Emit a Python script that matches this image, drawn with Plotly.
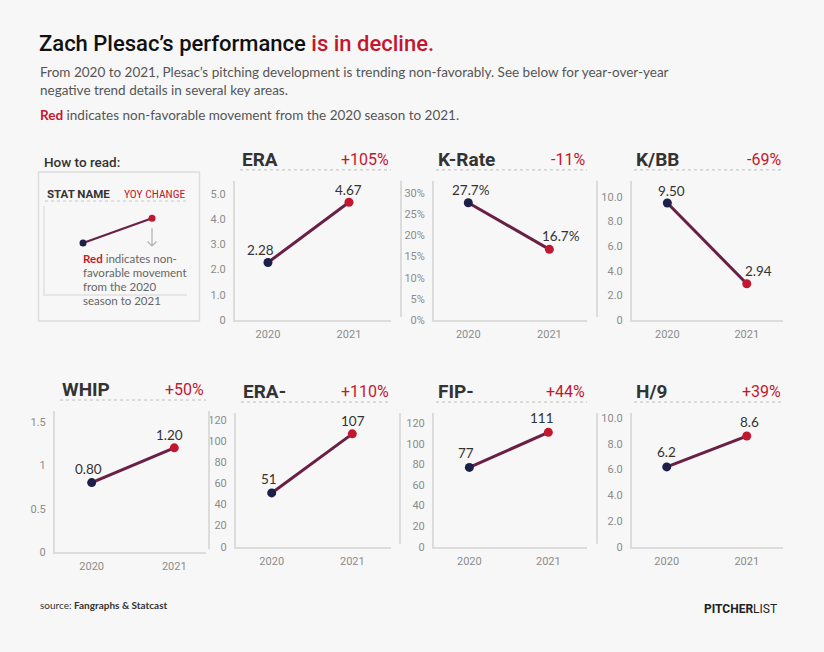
import plotly.graph_objects as go

W, H = 824, 652
NAVY = "#1c2048"
RED = "#c3172f"
MID = "#6a1f45"
DARK = "#333333"
GRAY = "#8c8c8c"
AXIS = "#dcdcdc"
BG = "#f7f7f7"

# ---- data ----
years = ["2020", "2021"]
stat_names = ["ERA", "K-Rate", "K/BB", "WHIP", "ERA-", "FIP-", "H/9"]
yoy_change = ["+105%", "-11%", "-69%", "+50%", "+110%", "+44%", "+39%"]

era = [2.28, 4.67]
k_rate = [27.7, 16.7]
k_bb = [9.50, 2.94]
whip = [0.80, 1.20]
era_minus = [51, 107]
fip_minus = [77, 111]
hits_per_9 = [6.2, 8.6]
demo_values = [1.0, 2.0]

era_ticks = [0, 1, 2, 3, 4, 5]
era_tick_text = ["0", "1.0", "2.0", "3.0", "4.0", "5.0"]
k_rate_ticks = [0, 5, 10, 15, 20, 25, 30]
k_rate_tick_text = ["0%", "5%", "10%", "15%", "20%", "25%", "30%"]
k_bb_ticks = [0, 2, 4, 6, 8, 10]
k_bb_tick_text = ["0", "2.0", "4.0", "6.0", "8.0", "10.0"]
whip_ticks = [0, 0.5, 1, 1.5]
whip_tick_text = ["0", "0.5", "1", "1.5"]
minus_ticks = [0, 20, 40, 60, 80, 100, 120]
minus_tick_text = ["0", "20", "40", "60", "80", "100", "120"]
h9_ticks = [0, 2, 4, 6, 8, 10]
h9_tick_text = ["0", "2.0", "4.0", "6.0", "8.0", "10.0"]


def px(x):
    return x / W


def py(y):
    return 1 - y / H


# panel layout: box = (left, right, top, bottom) in pixels
panels = [
    dict(values=era, ticks=era_ticks, text=era_tick_text, fmt="{:.2f}",
         box=(235, 391, 182, 323), ymax=5.52, xr=[-0.407, 1.519],
         shifts=[(-7, 13), (0, 12)], sep=401),
    dict(values=k_rate, ticks=k_rate_ticks, text=k_rate_tick_text, fmt="{:.1f}%",
         box=(434, 587, 182, 323), ymax=32.9, xr=[-0.423, 1.464],
         shifts=[(3, 13), (12, 13)], sep=597),
    dict(values=k_bb, ticks=k_bb_ticks, text=k_bb_tick_text, fmt="{:.2f}",
         box=(632, 783, 182, 323), ymax=11.3, xr=[-0.445, 1.456],
         shifts=[(4, 12), (12, 13)], sep=None),
    dict(values=whip, ticks=whip_ticks, text=whip_tick_text, fmt="{:.2f}",
         box=(55, 206, 415, 558), ymax=1.625, xr=[-0.444, 1.384],
         shifts=[(-3, 14), (-5, 13)], sep=209),
    dict(values=era_minus, ticks=minus_ticks, text=minus_tick_text, fmt="{:.0f}",
         box=(236, 391, 417, 552.5), ymax=126.9, xr=[-0.443, 1.48],
         shifts=[(-3, 14), (1, 13)], sep=400),
    dict(values=fip_minus, ticks=minus_ticks, text=minus_tick_text, fmt="{:.0f}",
         box=(434, 587, 417, 552.5), ymax=129.9, xr=[-0.448, 1.49],
         shifts=[(-3, 14), (-6, 14)], sep=597),
    dict(values=hits_per_9, ticks=h9_ticks, text=h9_tick_text, fmt="{:.1f}",
         box=(632, 783, 417, 552.5), ymax=10.4, xr=[-0.434, 1.453],
         shifts=[(0, 15), (3, 14)], sep=None),
]

fig = go.Figure()
annotations = []
shapes = []

for i, p in enumerate(panels, start=1):
    sfx = "" if i == 1 else str(i)
    left, right, top, bottom = p["box"]
    fig.add_trace(go.Scatter(
        x=years, y=p["values"], xaxis="x" + sfx, yaxis="y" + sfx,
        mode="lines+markers", cliponaxis=False, hoverinfo="skip",
        line=dict(color=MID, width=3),
        marker=dict(color=[NAVY, RED], size=9),
    ))
    fig.update_layout(**{
        "xaxis" + sfx: dict(
            domain=[px(left), px(right)], anchor="y" + sfx, type="category",
            range=p["xr"], showline=True, linecolor=AXIS, linewidth=2,
            showgrid=False, zeroline=False, ticks="", fixedrange=True,
            tickfont=dict(size=11, color=GRAY), ticklabelstandoff=3,
        ),
        "yaxis" + sfx: dict(
            domain=[py(bottom), py(top)], anchor="x" + sfx,
            range=[0, p["ymax"]], showline=True, linecolor=AXIS, linewidth=2,
            showgrid=False, zeroline=False, ticks="", fixedrange=True,
            tickvals=p["ticks"], ticktext=p["text"],
            tickfont=dict(size=11, color=GRAY), ticklabelstandoff=5,
        ),
    })
    # data labels (category index of each year on the x axis)
    for j, (v, (dx, dy)) in enumerate(zip(p["values"], p["shifts"])):
        annotations.append(dict(
            x=j, y=v, xref="x" + sfx, yref="y" + sfx, text=p["fmt"].format(v),
            showarrow=False, xshift=dx, yshift=dy,
            xanchor="center", yanchor="middle",
            font=dict(size=13.5, color=DARK, family="Lato"),
        ))
    # panel header
    head_y = top - 22
    title_x = left + 5 if i in (1, 4, 5) else left + 2
    annotations.append(dict(
        x=px(title_x), y=py(head_y), xref="paper", yref="paper",
        text="<b>" + stat_names[i - 1] + "</b>", showarrow=False,
        xanchor="left", yanchor="middle",
        font=dict(size=19, color=DARK, family="Roboto"),
    ))
    annotations.append(dict(
        x=px(right), y=py(head_y), xref="paper", yref="paper",
        text=yoy_change[i - 1], showarrow=False,
        xanchor="right", yanchor="middle",
        font=dict(size=16, color=RED, family="Roboto"),
    ))
    shapes.append(dict(
        type="line", xref="paper", yref="paper",
        x0=px(title_x), x1=px(right), y0=py(head_y + 11), y1=py(head_y + 11),
        line=dict(color="#bdbdbd", width=1, dash="dot"),
    ))
    if p["sep"] is not None:
        shapes.append(dict(
            type="line", xref="paper", yref="paper",
            x0=px(p["sep"]), x1=px(p["sep"]), y0=py(top), y1=py(bottom - 3),
            line=dict(color=AXIS, width=2),
        ))

# ---- "How to read" demo panel ----
fig.add_trace(go.Scatter(
    x=years, y=demo_values, xaxis="x8", yaxis="y8",
    mode="lines+markers", cliponaxis=False, hoverinfo="skip",
    line=dict(color=MID, width=2), marker=dict(color=[NAVY, RED], size=7),
))
fig.update_layout(
    xaxis8=dict(domain=[px(45), px(187)], anchor="y8", type="category",
                range=[-0.551, 1.507], showline=True, linecolor="#e6e6e6",
                linewidth=1.5, showgrid=False, zeroline=False,
                showticklabels=False, ticks="", fixedrange=True),
    yaxis8=dict(domain=[py(297), py(208)], anchor="x8", range=[-1.08, 2.48],
                showline=True, linecolor="#e6e6e6", linewidth=1.5,
                showgrid=False, zeroline=False, showticklabels=False,
                ticks="", fixedrange=True),
)
shapes.append(dict(type="rect", xref="paper", yref="paper",
                   x0=px(38.5), x1=px(199.5), y0=py(324), y1=py(173),
                   line=dict(color="#dddddd", width=1.5), layer="below"))
shapes.append(dict(type="line", xref="paper", yref="paper",
                   x0=px(45), x1=px(187), y0=py(202.5), y1=py(202.5),
                   line=dict(color="#c8c8c8", width=1, dash="dot")))
shapes.append(dict(type="path", xref="paper", yref="paper",
                   path="M {0} {1} L {0} {2} M {3} {4} L {0} {2} L {5} {4}".format(
                       px(152), py(230), py(248), px(147.5), py(243.5), px(156.5)),
                   line=dict(color="#b0b0b0", width=1.2)))
annotations += [
    dict(x=px(42), y=py(162.5), text="How to read:",
         font=dict(size=13.5, color=DARK, family="Roboto", weight=500)),
    dict(x=px(45), y=py(195.5), text="<b>STAT NAME</b>",
         font=dict(size=11.5, color=DARK, family="Roboto")),
    dict(x=px(187.5), y=py(195.5), text="YOY CHANGE", xanchor="right",
         font=dict(size=11.5, color=RED, family="Roboto Condensed, Roboto")),
    dict(x=px(81), y=py(261), text="<span style='color:%s'><b>Red</b></span> indicates non-" % RED,
         font=dict(size=11.5, color="#666666", family="Lato")),
    dict(x=px(81), y=py(275), text="favorable movement",
         font=dict(size=11.5, color="#666666", family="Lato")),
    dict(x=px(81), y=py(289), text="from the 2020",
         font=dict(size=11.5, color="#666666", family="Lato")),
    dict(x=px(81), y=py(303), text="season to 2021",
         font=dict(size=11.5, color="#666666", family="Lato")),
]

# ---- header and footer ----
annotations += [
    dict(x=px(37), y=py(43),
         text="Zach Plesac’s performance <span style='color:%s'>is in decline.</span>" % RED,
         font=dict(size=22, color="#111111", family="Roboto", weight=500)),
    dict(x=px(38), y=py(72),
         text="From 2020 to 2021, Plesac’s pitching development is trending non-favorably. See below for year-over-year",
         font=dict(size=13.5, color="#555555", family="Lato")),
    dict(x=px(38), y=py(90), text="negative trend details in several key areas.",
         font=dict(size=13.5, color="#555555", family="Lato")),
    dict(x=px(38), y=py(115),
         text="<span style='color:%s'><b>Red</b></span> indicates non-favorable movement from the 2020 season to 2021." % RED,
         font=dict(size=13.5, color="#555555", family="Lato")),
    dict(x=px(38), y=py(611), text="source: <b>Fangraphs &amp; Statcast</b>",
         font=dict(size=10, color="#333333", family="Lato")),
    dict(x=px(779), y=py(616), text="<b>PITCHER</b>LIST", xanchor="right",
         font=dict(size=12, color="#222222", family="Roboto")),
]
for a in annotations:
    a.setdefault("xref", "paper")
    a.setdefault("yref", "paper")
    a.setdefault("showarrow", False)
    a.setdefault("xanchor", "left")
    a.setdefault("yanchor", "middle")

fig.update_layout(
    width=W, height=H, autosize=False,
    margin=dict(l=0, r=0, t=0, b=0),
    paper_bgcolor=BG, plot_bgcolor="rgba(0,0,0,0)",
    showlegend=False,
    font=dict(family="Roboto, Arial, sans-serif"),
    annotations=annotations, shapes=shapes,
)

fig.write_html(
    "out.html",
    config=dict(displayModeBar=False),
    post_script="document.body.style.margin='0px';document.body.style.overflow='hidden';",
)
